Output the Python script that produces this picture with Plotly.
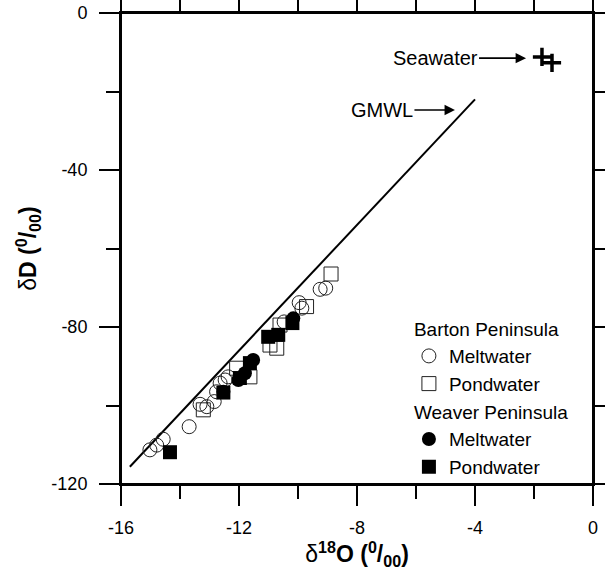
import plotly.graph_objects as go

# ---- data ----
barton_melt_x = [-15.02, -14.79, -14.57, -13.69, -13.32, -13.09, -12.84, -12.76, -12.64, -12.47, -12.37, -10.47, -9.96, -9.87, -9.25, -9.06]
barton_melt_y = [-111.3, -110.1, -108.6, -105.4, -99.7, -100.3, -99.0, -96.5, -94.3, -93.5, -92.7, -78.7, -73.8, -75.2, -70.4, -70.1]

barton_pond_x = [-13.21, -12.08, -11.63, -10.95, -10.72, -10.61, -9.71, -8.88]
barton_pond_y = [-101.1, -90.5, -92.7, -84.6, -85.4, -79.5, -74.8, -66.5]

weaver_melt_x = [-12.53, -12.02, -11.80, -11.52, -10.16]
weaver_melt_y = [-96.5, -93.5, -91.8, -88.4, -77.8]

weaver_pond_x = [-14.34, -12.53, -11.97, -11.63, -11.01, -10.67, -10.19]
weaver_pond_y = [-111.9, -96.7, -93.0, -89.2, -82.5, -82.0, -79.0]

seawater_x = [-1.73, -1.39]
seawater_y = [-11.2, -12.7]

gmwl_x = [-15.7, -4.0]          # GMWL: dD = 8*d18O + 10
gmwl_y = [8 * v + 10 for v in gmwl_x]

x_ticks = [-16, -12, -8, -4, 0]
y_ticks = [-120, -80, -40, 0]

FONT = "Liberation Sans, Arial, sans-serif"

fig = go.Figure()

fig.add_trace(go.Scatter(x=gmwl_x, y=gmwl_y, mode="lines",
                         line=dict(color="black", width=2), showlegend=False, hoverinfo="skip"))

fig.add_trace(go.Scatter(x=barton_melt_x, y=barton_melt_y, mode="markers", name="Meltwater",
                         legendgroup="barton", legendgrouptitle=dict(text="Barton Peninsula", font=dict(size=19, color="black")),
                         marker=dict(symbol="circle-open", size=14, color="#222", line=dict(width=1))))
fig.add_trace(go.Scatter(x=barton_pond_x, y=barton_pond_y, mode="markers", name="Pondwater",
                         legendgroup="barton",
                         marker=dict(symbol="square-open", size=14, color="#222", line=dict(width=1))))
fig.add_trace(go.Scatter(x=weaver_melt_x, y=weaver_melt_y, mode="markers", name="Meltwater",
                         legendgroup="weaver", legendgrouptitle=dict(text="Weaver Peninsula", font=dict(size=19, color="black")),
                         marker=dict(symbol="circle", size=14, color="black")))
fig.add_trace(go.Scatter(x=weaver_pond_x, y=weaver_pond_y, mode="markers", name="Pondwater",
                         legendgroup="weaver",
                         marker=dict(symbol="square", size=14, color="black")))

fig.add_trace(go.Scatter(x=seawater_x, y=seawater_y, mode="markers", showlegend=False,
                         marker=dict(symbol="cross-thin", size=13, color="black",
                                     line=dict(width=3.5, color="black"))))

fig.add_annotation(x=-4.68, y=-24.7, ax=-73, ay=0, text="GMWL", showarrow=True,
                   arrowhead=2, arrowsize=1.3, arrowwidth=1.6, arrowcolor="black",
                   font=dict(size=20, color="black", family=FONT))
fig.add_annotation(x=-2.27, y=-11.5, ax=-91, ay=0, text="Seawater", showarrow=True,
                   arrowhead=2, arrowsize=1.3, arrowwidth=1.6, arrowcolor="black",
                   font=dict(size=20, color="black", family=FONT))

# plot frame (box around the plotting area)
fig.add_shape(type="rect", xref="paper", yref="paper", x0=0, x1=1, y0=0, y1=1,
              line=dict(color="rgb(1,1,1)", width=2), fillcolor="rgba(0,0,0,0)", layer="above")

axis_common = dict(showgrid=False, zeroline=False, showline=True, linecolor="rgb(1,1,1)", linewidth=2,
                   mirror="all", ticks="outside", ticklen=20, tickwidth=2, tickcolor="rgb(1,1,1)",
                   automargin=False,
                   tickfont=dict(size=18, color="black", family=FONT))

fig.update_xaxes(range=[-16, 0], tickmode="array", tickvals=x_ticks, ticktext=[str(v) for v in x_ticks],
                 minor=dict(dtick=2, ticks="outside", ticklen=13, tickwidth=2, tickcolor="rgb(1,1,1)"),
                 ticklabelstandoff=6,
                 title=dict(text="δ<sup><b>18</b></sup><b>O (</b><sup><b>0</b></sup><b>/</b><sub><b>00</b></sub><b>)</b>",
                            font=dict(size=23, color="black", family=FONT), standoff=2),
                 **axis_common)
fig.update_yaxes(range=[-120, 0], tickmode="array", tickvals=y_ticks, ticktext=[str(v) for v in y_ticks],
                 minor=dict(dtick=20, ticks="outside", ticklen=13, tickwidth=2, tickcolor="rgb(1,1,1)"),
                 ticklabelstandoff=8,
                 title=dict(text="δ<b>D (</b><sup><b>0</b></sup><b>/</b><sub><b>00</b></sub><b>)</b>",
                            font=dict(size=23, color="black", family=FONT), standoff=8),
                 **axis_common)

fig.update_layout(width=605, height=574, margin=dict(l=121, r=12, t=13, b=90),
                  template="none",
                  plot_bgcolor="rgba(0,0,0,0)", paper_bgcolor="white",
                  font=dict(family=FONT, color="black", size=18),
                  legend=dict(x=0.61, y=-0.005, xanchor="left", yanchor="bottom",
                              bgcolor="rgba(0,0,0,0)", font=dict(size=19, color="black"),
                              tracegroupgap=0, traceorder="grouped"))

fig.write_html("out.html", config={"displayModeBar": False},
               post_script="document.body.style.margin='0';document.body.style.padding='0';")
